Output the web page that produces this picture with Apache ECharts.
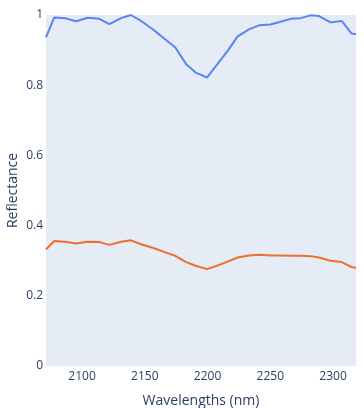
<!DOCTYPE html>
<html>
<head>
<meta charset="utf-8">
<script src="https://cdn.jsdelivr.net/npm/echarts@6/dist/echarts.min.js"></script>
<style>html,body{margin:0;padding:0;background:#fff}#c{width:364px;height:408px}</style>
</head>
<body>
<div id="c"></div>
<script>
const wavelengths = [2071.3, 2077.9, 2086.4, 2095.2, 2104.5, 2113.8, 2121.8, 2131.1, 2138.9, 2147.1,
  2156.9, 2165.4, 2174.2, 2183.0, 2191.0, 2199.7, 2208.5, 2216.5, 2224.0, 2233.0,
  2241.4, 2250.2, 2258.2, 2266.2, 2274.2, 2282.1, 2288.8, 2298.1, 2306.9, 2314.8, 2318.3];
const seriesA = [0.936, 0.993, 0.991, 0.982, 0.992, 0.989, 0.974, 0.991, 1.0, 0.983,
  0.958, 0.933, 0.908, 0.860, 0.835, 0.822, 0.863, 0.900, 0.939, 0.959,
  0.971, 0.973, 0.981, 0.989, 0.991, 0.999, 0.997, 0.979, 0.983, 0.947, 0.945];
const seriesB = [0.332, 0.356, 0.354, 0.349, 0.354, 0.353, 0.345, 0.354, 0.358, 0.347,
  0.336, 0.325, 0.314, 0.296, 0.285, 0.276, 0.287, 0.298, 0.309, 0.315,
  0.317, 0.315, 0.315, 0.314, 0.314, 0.313, 0.309, 0.300, 0.296, 0.282, 0.279];
const xTicks = [2100, 2150, 2200, 2250, 2300];
const yTicks = [0, 0.2, 0.4, 0.6, 0.8, 1];

const font = '"Open Sans", sans-serif';
const txt = '#2a3f5f';
const chart = echarts.init(document.getElementById('c'), null, {renderer: 'canvas'});
chart.setOption({
  animation: false,
  grid: {left: 46, right: 8, top: 15, bottom: 42, show: true, backgroundColor: '#E5ECF6', borderWidth: 0,
         containLabel: false, outerBoundsMode: 'none'},
  xAxis: {
    type: 'value',
    min: wavelengths[0], max: wavelengths[wavelengths.length - 1],
    name: 'Wavelengths (nm)', nameLocation: 'middle', nameGap: 28,
    nameTextStyle: {fontFamily: font, fontSize: 14, color: txt},
    axisLine: {show: false}, axisTick: {show: false}, splitLine: {show: false},
    axisLabel: {customValues: xTicks, formatter: v => String(v), fontFamily: font, fontSize: 12, color: txt, margin: 5}
  },
  yAxis: {
    type: 'value', min: 0, max: 1, interval: 0.2,
    name: 'Reflectance', nameLocation: 'middle', nameGap: 26, nameMoveOverlap: false,
    nameTextStyle: {fontFamily: font, fontSize: 14, color: txt},
    axisLine: {show: false}, axisTick: {show: false}, splitLine: {show: false},
    axisLabel: {customValues: yTicks, formatter: v => String(v), fontFamily: font, fontSize: 12, color: txt, margin: 3}
  },
  series: [
    {type: 'line', data: wavelengths.map((w, i) => [w, seriesA[i]]), showSymbol: false,
     lineStyle: {color: '#5b83f3', width: 2}, itemStyle: {color: '#5b83f3'}, clip: true},
    {type: 'line', data: wavelengths.map((w, i) => [w, seriesB[i]]), showSymbol: false,
     lineStyle: {color: '#ef6e2f', width: 2}, itemStyle: {color: '#ef6e2f'}, clip: true}
  ]
});
</script>
</body>
</html>
